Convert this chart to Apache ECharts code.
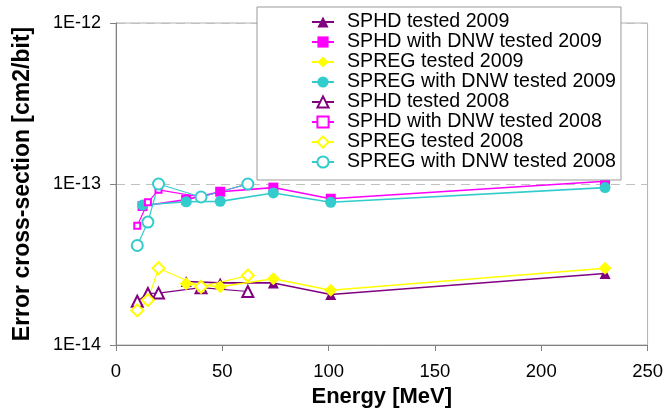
<!DOCTYPE html>
<html>
<head>
<meta charset="utf-8">
<script src="https://cdn.jsdelivr.net/npm/echarts@6/dist/echarts.min.js"></script>
<style>
html,body{margin:0;padding:0;background:#fff;}
#chart{width:666px;height:414px;}
</style>
</head>
<body>
<div id="chart"></div>
<script>
// ---- data ----
var seriesNames = [
  'SPHD tested 2009',
  'SPHD with DNW tested 2009',
  'SPREG tested 2009',
  'SPREG with DNW tested 2009',
  'SPHD tested 2008',
  'SPHD with DNW tested 2008',
  'SPREG tested 2008',
  'SPREG with DNW tested 2008'
];
var energy2009 = [33, 49, 74, 101, 230];
var energy2009DNW = [12.5, 33, 49, 74, 101, 230];
var energy2008 = [10, 15, 20, 40, 62];

var sphd2009 = [2.48e-14, 2.43e-14, 2.43e-14, 2.06e-14, 2.78e-14];
var sphdDNW2009 = [7.3e-14, 8.0e-14, 8.95e-14, 9.5e-14, 8.1e-14, 1.04e-13];
var spreg2009 = [2.4e-14, 2.3e-14, 2.58e-14, 2.19e-14, 3.0e-14];
var spregDNW2009 = [7.4e-14, 7.75e-14, 7.8e-14, 8.8e-14, 7.7e-14, 9.5e-14];
var sphd2008 = [1.87e-14, 2.09e-14, 2.1e-14, 2.27e-14, 2.15e-14];
var sphdDNW2008 = [5.5e-14, 7.7e-14, 9.2e-14, 8.3e-14, 1.0e-13];
var spreg2008 = [1.64e-14, 1.9e-14, 3.0e-14, 2.3e-14, 2.7e-14];
var spregDNW2008 = [4.15e-14, 5.8e-14, 1.0e-13, 8.3e-14, 1.0e-13];

var xTicks = [0, 50, 100, 150, 200, 250];
var yTickLabels = ['1E-14', '1E-13', '1E-12'];

function pairs(xs, ys) { return xs.map(function (x, i) { return [x, ys[i]]; }); }

var FONT = '"Liberation Sans", Arial, sans-serif';
var PURPLE = '#800080', MAGENTA = '#FF00FF', YELLOW = '#FFFF00', TEAL = '#33CCCC';

function mk(name, xs, ys, color, symbol, size, lw) {
  var empty = symbol.indexOf('empty') === 0;
  return {
    name: name, type: 'line', data: pairs(xs, ys),
    symbol: symbol, symbolSize: size,
    lineStyle: { color: color, width: lw },
    itemStyle: { color: color, borderColor: color, borderWidth: empty ? 1.3 : 0 },
    emphasis: { disabled: true },
    animation: false
  };
}

var series = [
  mk(seriesNames[0], energy2009, sphd2009, PURPLE, 'triangle', 11, 1.6),
  mk(seriesNames[1], energy2009DNW, sphdDNW2009, MAGENTA, 'rect', 10, 1.6),
  mk(seriesNames[2], energy2009, spreg2009, YELLOW, 'diamond', 13, 1.6),
  mk(seriesNames[3], energy2009DNW, spregDNW2009, TEAL, 'circle', 11, 1.6),
  mk(seriesNames[4], energy2008, sphd2008, PURPLE, 'emptyTriangle', 11, 1.2),
  mk(seriesNames[5], energy2008, sphdDNW2008, MAGENTA, 'emptyRect', 6, 1.2),
  mk(seriesNames[6], energy2008, spreg2008, YELLOW, 'emptyDiamond', 12, 1.2),
  mk(seriesNames[7], energy2008, spregDNW2008, TEAL, 'emptyCircle', 11, 1.2)
];

var chart = echarts.init(document.getElementById('chart'), null, { renderer: 'canvas' });
chart.setOption({
  backgroundColor: '#fff',
  animation: false,
  textStyle: { fontFamily: FONT },
  grid: {
    left: 116, right: 17, top: 23, bottom: 69,
    show: true, borderColor: '#b0b0b0', borderWidth: 1, backgroundColor: '#fff'
  },
  legend: {
    orient: 'vertical',
    left: 257, top: 7,
    padding: [5, 5, 8, 54],
    backgroundColor: '#fff',
    borderColor: '#999',
    borderWidth: 1,
    itemWidth: 22, itemHeight: 14, itemGap: 0,
    textStyle: { fontSize: 19.6, lineHeight: 19, color: '#000', fontFamily: FONT, padding: [0, 0, 0, 8] },
    data: seriesNames,
    z: 10
  },
  xAxis: {
    type: 'value', min: 0, max: 250, interval: 50,
    name: 'Energy [MeV]', nameLocation: 'middle', nameGap: 38,
    nameTextStyle: { fontSize: 22, fontWeight: 'bold', color: '#000', fontFamily: FONT },
    axisLine: { show: true, lineStyle: { color: '#808080', width: 1 } },
    axisTick: { show: true, length: 6, lineStyle: { color: '#808080' } },
    axisLabel: { fontSize: 18.5, color: '#000', margin: 17, fontFamily: FONT,
      formatter: function (v) { var i = xTicks.indexOf(v); return i >= 0 ? String(xTicks[i]) : ''; } },
    splitLine: { show: false }
  },
  yAxis: {
    type: 'log', logBase: 10, min: 1e-14, max: 1e-12,
    name: 'Error cross-section [cm2/bit]', nameLocation: 'middle', nameGap: 82, nameRotate: 90,
    nameTextStyle: { fontSize: 23, fontWeight: 'bold', color: '#000', fontFamily: FONT },
    axisLine: { show: true, lineStyle: { color: '#808080', width: 1 } },
    axisTick: { show: true, length: 6, lineStyle: { color: '#808080' } },
    axisLabel: { fontSize: 18, color: '#000', margin: 15, fontFamily: FONT,
      formatter: function (v) {
        var e = Math.round(Math.log(v) / Math.LN10) + 14;
        return yTickLabels[e] !== undefined ? yTickLabels[e] : '';
      } },
    splitLine: { show: true, lineStyle: { color: '#c0c0c0', type: [9, 6], width: 1 } }
  },
  series: series
});
</script>
</body>
</html>
